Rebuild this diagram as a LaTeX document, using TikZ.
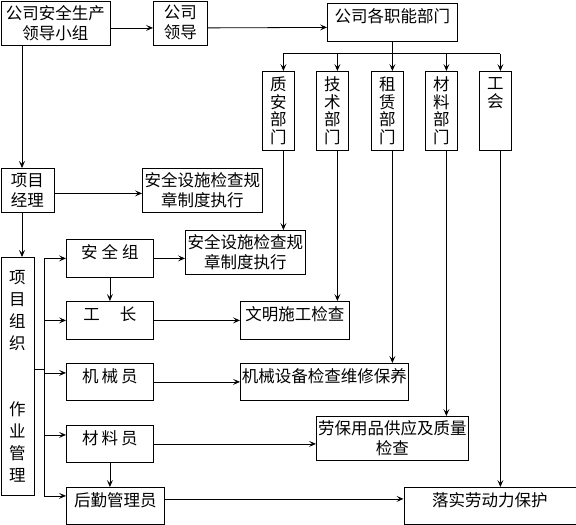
\documentclass[tikz,border=0pt]{standalone}
\usepackage{fontspec}
\setmainfont{Noto Sans CJK SC}
\usetikzlibrary{arrows.meta}
\tikzset{
  every picture/.style={line width=0.8pt},
  box/.style={draw, anchor=north west, align=center, inner sep=1.5pt, font=\fontsize{16.5}{20}\selectfont},
  wh/.style 2 args={minimum width=#1pt, minimum height=#2pt},
  oneline/.style={text height=18pt, text depth=#1},
  oneline/.default=17pt,
  dept/.style={box, wh={32}{79}, font=\fontsize{16.5}{17.5}\selectfont},
  arrow/.style={-{Stealth[length=7pt, width=6pt, inset=3pt]}},
}

\begin{document}
\begin{tikzpicture}[x=1pt, y=-1pt]
  \useasboundingbox (0,0) rectangle (576,525);
  % company level
  \node[box, wh={109}{44}] (lead) at (0.5,0.5) {公司安全生产\\领导小组};
  \node[box, wh={54}{44}] (boss) at (153,0.5) {公司\\领导};
  \node[box, wh={130}{38}, oneline] (func) at (327,3) {公司各职能部门};
  % departments
  \node[dept] (qa) at (262,71) {质\\安\\部\\门};
  \node[dept] (tech) at (316,71) {技\\术\\部\\门};
  \node[dept] (rent) at (371,71) {租\\赁\\部\\门};
  \node[dept] (matd) at (425,71) {材\\料\\部\\门};
  \node[dept] (union) at (479,71) {工\\会\\\phantom{部}\\\phantom{门}};
  % project level
  \node[box, wh={53}{44}] (pm) at (0.5,168) {项目\\经理};
  \node[box, wh={120}{44}] (chk1) at (142,168) {安全设施检查规\\章制度执行};
  \node[box, wh={33}{238}, font=\fontsize{16.5}{22}\selectfont] (org) at (0.5,257) {项\\目\\组\\织\\[44pt]作\\业\\管\\理};
  \node[box, wh={87}{38}, oneline] (safe) at (66,239) {安\hspace{4pt}全\hspace{4pt}组};
  \node[box, wh={87}{38}, oneline] (fore) at (66,301) {工\hspace{20pt}长};
  \node[box, wh={87}{37}, oneline=16pt] (mech) at (66,363) {机\hspace{3pt}械\hspace{3pt}员};
  \node[box, wh={87}{37}, oneline=16pt] (mat) at (66,425) {材\hspace{3pt}料\hspace{3pt}员};
  \node[box, wh={98}{37}, oneline=16pt] (log) at (66,487) {后勤管理员};
  % checks
  \node[box, wh={120}{44}] (chk2) at (185,230) {安全设施检查规\\章制度执行};
  \node[box, wh={109}{38}, oneline] (civ) at (240,301) {文明施工检查};
  \node[box, wh={163}{37}, oneline=16pt] (mnt) at (240,363) {机械设备检查维修保养};
  \node[box, wh={152}{44}] (ppe) at (316,416) {劳保用品供应及质量\\检查};
  \node[box, wh={172}{37}, oneline=16pt] (lab) at (403.5,487) {落实劳动力保护};
  % helper points
  \coordinate (bus) at ([yshift=-12pt]func.south);
  \coordinate (lx) at (22,0);
  \coordinate (lbus) at (44,0);
  \coordinate (qab) at ([xshift=5pt]qa.south);
  \coordinate (techb) at ([xshift=5pt]tech.south);
  \coordinate (rentb) at ([xshift=5pt]rent.south);
  \coordinate (matdb) at ([xshift=5pt]matd.south);
  \coordinate (unionb) at ([xshift=5pt]union.south);
  \coordinate (mechin) at ([yshift=9pt]mech.west);
  \coordinate (matin) at ([yshift=9pt]mat.west);
  \coordinate (login) at ([yshift=10pt]log.west);
  \coordinate (logout) at ([yshift=7pt]log.east);
  % top row
  \draw[arrow] ([yshift=-5pt]lead.east) -- ([yshift=-5pt]boss.west);
  \draw[arrow] ([yshift=-5pt]boss.east) -- ([yshift=-5pt]func.west);
  \draw (func.south) -- (bus);
  \draw (bus -| qab) -- (bus -| unionb);
  \foreach \d in {qa, tech, rent, matd, union}
    \draw[arrow] (bus -| \d b) -- (\d.north -| \d b);
  % departments down to checks
  \draw[arrow] (qab) -- (chk2.north -| qab);
  \draw[arrow] (techb) -- (civ.north -| techb);
  \draw[arrow] (rentb) -- (mnt.north -| rentb);
  \draw[arrow] (matdb) -- (ppe.north -| matdb);
  \draw[arrow] (unionb) -- (lab.north -| unionb);
  % left column
  \draw[arrow] (lead.south -| lx) -- (pm.north -| lx);
  \draw[arrow] ([yshift=-3pt]pm.east) -- ([yshift=-3pt]chk1.west);
  \draw[arrow] (pm.south -| lx) -- (org.north -| lx);
  \draw (org.east |- 0,369) -- (lbus |- 0,369);
  \draw (lbus |- safe.west) -- (lbus |- login);
  \draw[arrow] (lbus |- safe.west) -- (safe.west);
  \draw[arrow] (lbus |- fore.west) -- (fore.west);
  \draw[arrow] (lbus |- mechin) -- (mechin);
  \draw[arrow] (lbus |- matin) -- (matin);
  \draw[arrow] (lbus |- login) -- (login);
  \draw[arrow] (safe.south) -- (fore.north);
  \draw[arrow] (mat.south) -- (mat.south |- log.north);
  % roles to checks
  \draw[arrow] (safe.east) -- (safe.east -| chk2.west);
  \draw[arrow] (fore.east) -- (fore.east -| civ.west);
  \draw[arrow] (mech.east) -- (mech.east -| mnt.west);
  \draw[arrow] (mat.east) -- (mat.east -| ppe.west);
  \draw[arrow] (logout) -- (logout -| lab.west);
\end{tikzpicture}
\end{document}
